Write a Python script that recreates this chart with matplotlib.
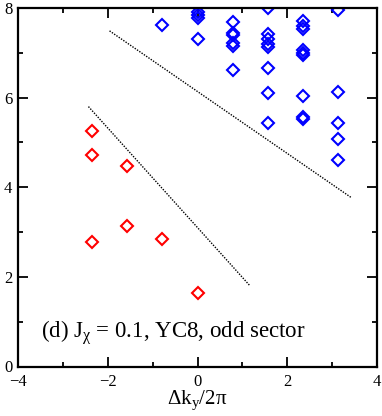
import matplotlib
matplotlib.use("Agg")
import matplotlib.pyplot as plt
from matplotlib.ticker import MultipleLocator

plt.rcParams['font.family'] = ['Liberation Serif', 'DejaVu Serif']
plt.rcParams['mathtext.fontset'] = 'custom'
plt.rcParams['mathtext.rm'] = 'Liberation Serif'
plt.rcParams['mathtext.it'] = 'Liberation Serif:italic'

# odd-sector low-lying states (red) and continuum (blue)
red_x = [-2.356, -2.356, -1.571, -2.356, -1.571, -0.785, 0.0]
red_y = [5.26, 4.72, 4.48, 2.78, 3.13, 2.85, 1.65]

blue_x = [-0.785,
          0.0, 0.0, 0.0, 0.0,
          0.785, 0.785, 0.785, 0.785, 0.785, 0.785,
          1.571, 1.571, 1.571, 1.571, 1.571, 1.571, 1.571, 1.571,
          2.356, 2.356, 2.356, 2.356, 2.356, 2.356, 2.356, 2.356, 2.356,
          3.142, 3.142, 3.142, 3.142, 3.142]
blue_y = [7.62,
          7.92, 7.85, 7.77, 7.31,
          7.68, 7.45, 7.40, 7.21, 7.16, 6.61,
          8.00, 7.42, 7.30, 7.20, 7.14, 6.66, 6.11, 5.44,
          7.72, 7.60, 7.53, 7.06, 7.00, 6.95, 6.04, 5.56, 5.52,
          7.96, 6.12, 5.43, 5.07, 4.61]

# dotted guide lines
line1_x = [-1.96, 3.44]
line1_y = [7.49, 3.76]
line2_x = [-2.43, 1.17]
line2_y = [5.80, 1.80]

xticks = [-4, -2, 0, 2, 4]
yticks = [0, 2, 4, 6, 8]

fig = plt.figure(figsize=(3.82, 4.16), dpi=100)
ax = fig.add_axes([18/382, (416-366.5)/416, 359/382, 358.5/416])

ax.plot(line1_x, line1_y, color='black', linestyle=(0, (1, 1)), linewidth=1.0)
ax.plot(line2_x, line2_y, color='black', linestyle=(0, (1, 1)), linewidth=1.0)

ax.plot(blue_x, blue_y, linestyle='none', marker='D', markersize=6.3,
        markerfacecolor='none', markeredgecolor='#0000ff', markeredgewidth=1.5)
ax.plot(red_x, red_y, linestyle='none', marker='D', markersize=6.3,
        markerfacecolor='none', markeredgecolor='#ff0000', markeredgewidth=1.5)

ax.set_xlim(-4, 4)
ax.set_ylim(0, 8)
ax.set_xticks(xticks)
ax.set_yticks(yticks)
ax.xaxis.set_minor_locator(MultipleLocator(1))
ax.yaxis.set_minor_locator(MultipleLocator(1))
ax.tick_params(which='both', direction='in', top=True, right=True,
               labelsize=12, width=1.3)
ax.tick_params(axis='x', pad=5.5)
ax.tick_params(axis='y', pad=4)
ax.tick_params(which='major', length=7)
ax.tick_params(which='minor', length=3.5)
for s in ax.spines.values():
    s.set_linewidth(1.6)

ax.set_xlabel(r'$\mathregular{\Delta k_y/2\pi}$', fontsize=15, labelpad=-1)

ax.text(0.064, 0.079, r'(d) $\mathregular{J_\chi}$ = 0.1, YC8, odd sector',
        transform=ax.transAxes, fontsize=16.5, ha='left', va='baseline')

fig.savefig('out.png', dpi=100)
